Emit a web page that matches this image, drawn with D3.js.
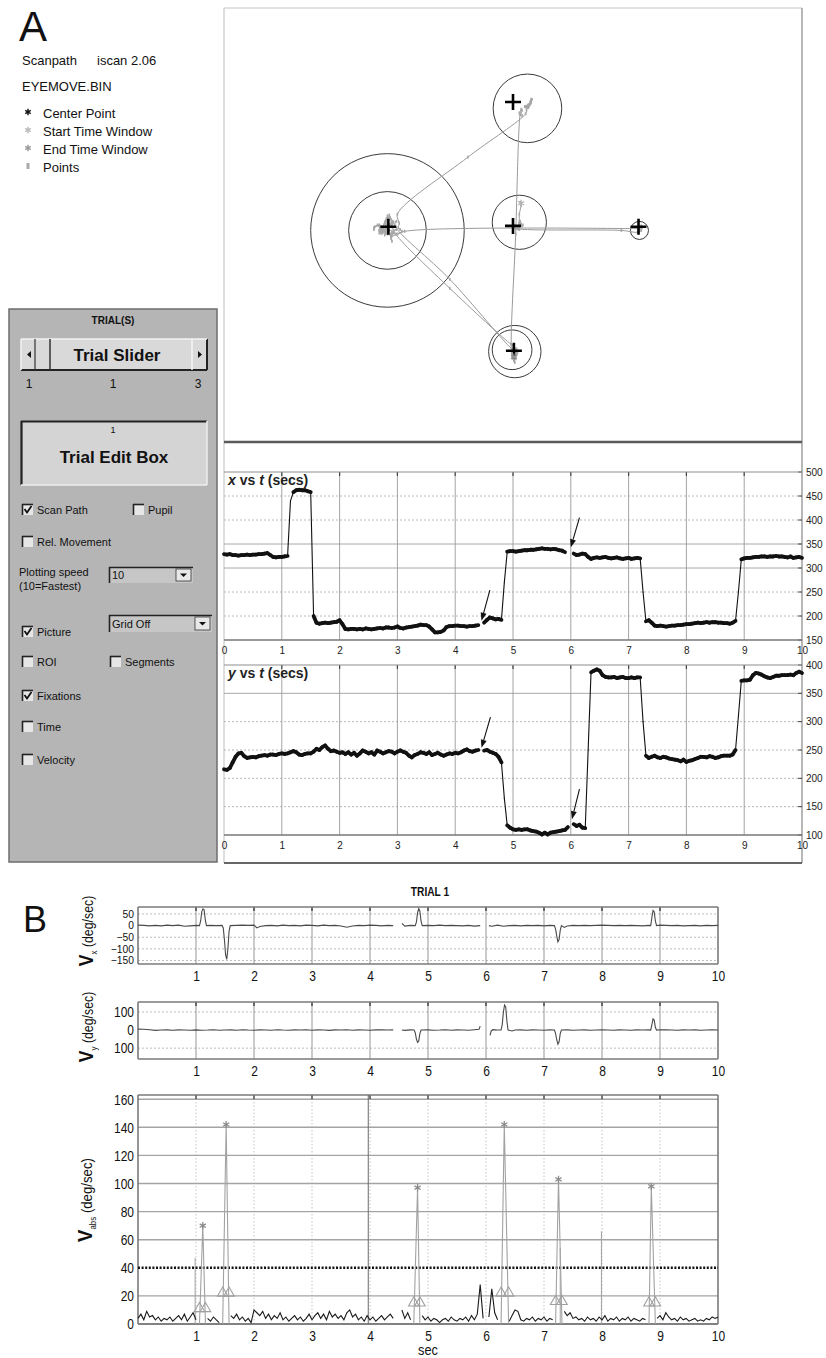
<!DOCTYPE html>
<html><head><meta charset="utf-8">
<script src="https://cdn.jsdelivr.net/npm/d3@7"></script>
<style>body{margin:0;background:#fff}svg{display:block}</style>
</head><body>
<svg id="c" width="826" height="1358"></svg>
<script>
// ---------------- DATA ----------------
const DT = 0.05; // sample spacing (s) for position / |V| series
// eye x position (pixels) sampled every 0.05 s from 0 to 10 s (null = lost sample)
const xPos = [
329,328,329,327,327,326,327,327,328,327,328,328,329,329,330,331,327,323,322,323,
323,324,325,440,458,462,463,462,462,460,458,200,186,184,185,186,185,186,187,188,
191,183,173,172,173,173,172,173,172,174,173,172,173,174,175,174,176,176,175,176,
178,175,174,176,177,178,179,180,182,181,181,178,172,166,166,167,170,177,179,179,
180,180,179,179,178,179,179,180,181,null,186,192,197,195,193,194,192,270,334,335,
335,334,335,336,337,337,338,338,339,340,341,340,340,339,340,339,337,336,333,null,
null,330,327,328,330,329,323,319,321,322,321,322,323,321,320,321,322,320,319,320,
321,319,320,321,320,250,189,191,186,180,179,180,179,178,179,180,180,181,181,182,
183,183,184,185,186,185,186,187,186,187,187,186,186,185,185,184,186,190,250,318,
320,321,321,322,323,323,324,324,323,324,324,325,324,324,323,322,324,321,322,323,
321];
// eye y position (pixels)
const yPos = [
216,215,218,228,238,244,245,239,236,237,238,237,239,240,241,240,242,242,241,243,
244,243,244,246,248,246,242,241,243,244,244,247,252,250,255,258,252,248,249,247,
245,246,243,246,242,245,240,244,249,247,244,246,242,249,247,244,246,248,247,244,
247,249,247,245,240,237,241,243,246,245,243,246,241,243,245,242,240,242,244,243,
245,244,246,249,251,248,247,249,250,null,249,250,247,245,243,238,228,165,117,113,
110,109,110,109,110,110,108,107,106,104,101,104,101,104,105,106,107,108,109,114,
null,119,116,118,113,112,250,387,390,392,390,382,379,378,378,379,377,378,379,377,
377,378,377,378,378,300,240,236,238,240,237,236,238,237,235,234,233,232,230,233,
229,231,232,234,236,238,238,237,239,238,236,237,239,240,240,240,242,250,310,372,
373,373,374,382,386,385,383,380,378,377,379,381,381,382,382,382,383,382,386,388,
386];
// |V| (deg/sec) outside saccades, every 0.05 s
const vAbs = [
4,7,3,9,5,6,3,5,2,4,3,5,2,4,6,3,7,2,5,8,
3,null,null,null,4,2,5,3,1,null,null,null,6,4,7,3,5,2,4,1,
10,8,6,9,4,7,3,6,4,8,3,5,2,4,6,3,5,2,4,7,
3,6,8,4,7,3,9,5,7,4,6,3,8,10,5,7,3,5,2,6,
3,5,2,4,6,3,5,7,4,null,null,10,4,8,3,null,null,null,6,3,
5,2,4,3,1,3,4,2,5,3,2,4,3,5,2,6,3,7,28,4,
null,5,25,8,3,null,null,null,2,6,10,9,3,2,4,3,5,2,4,3,
5,2,4,3,null,null,null,9,6,8,4,5,3,4,2,5,3,4,2,5,
3,6,2,4,3,5,2,4,3,5,2,4,3,2,4,3,null,null,null,4,
6,3,8,5,3,4,2,5,3,4,2,3,4,2,3,2,4,3,5,4,
5];
// Vx (deg/sec): [t, value]
const vxPts = [[0,2],[0.1,1],[0.2,-1],[0.3,1],[0.4,-1],[0.5,2],[0.6,0],[0.7,2],[0.8,-3],[0.9,-1],[1.0,1],
[1.06,0],[1.08,20],[1.10,60],[1.12,72],[1.14,68],[1.16,25],[1.18,0],[1.25,1],[1.35,0],[1.45,1],
[1.47,-10],[1.49,-60],[1.51,-125],[1.53,-145],[1.55,-100],[1.57,-25],[1.59,0],[1.7,1],[1.8,2],[1.9,1],[2.0,2],
[2.05,-10],[2.1,-4],[2.2,0],[2.3,1],[2.4,-1],[2.5,2],[2.6,0],[2.7,1],[2.8,-1],[2.9,2],[3.0,1],[3.1,-1],[3.2,2],
[3.3,0],[3.4,1],[3.5,-2],[3.6,-7],[3.7,-2],[3.8,1],[3.9,0],[4.0,2],[4.1,1],[4.2,-1],[4.3,1],[4.4,0],[4.42,null],
[4.55,10],[4.6,-2],[4.7,1],[4.78,0],[4.80,15],[4.82,55],[4.84,73],[4.86,62],[4.88,20],[4.9,0],[5.0,1],[5.1,0],
[5.2,2],[5.3,0],[5.4,1],[5.5,0],[5.6,-1],[5.7,1],[5.8,-2],[5.9,0],[5.93,null],[6.05,0],[6.1,-3],[6.2,2],[6.3,-3],
[6.4,0],[6.5,1],[6.6,-1],[6.7,1],[6.8,0],[6.9,1],[7.0,-1],[7.1,1],[7.18,0],[7.20,-15],[7.22,-45],[7.24,-70],
[7.26,-60],[7.28,-20],[7.30,0],[7.35,-8],[7.4,-2],[7.5,1],[7.6,0],[7.7,1],[7.8,0],[7.9,1],[8.0,2],[8.1,1],[8.2,0],
[8.3,1],[8.4,0],[8.5,1],[8.6,0],[8.7,-1],[8.8,1],[8.84,0],[8.86,35],[8.88,65],[8.90,60],[8.92,20],[8.94,0],
[9.0,2],[9.1,1],[9.2,0],[9.3,1],[9.4,-1],[9.5,0],[9.6,1],[9.7,-1],[9.8,1],[9.9,0],[10,1]];
// Vy (deg/sec): [t, value]
const vyPts = [[0,5],[0.1,4],[0.2,2],[0.3,-2],[0.4,0],[0.5,1],[0.6,-1],[0.7,1],[0.8,0],[0.9,-1],[1.0,1],[1.1,-1],
[1.2,0],[1.3,2],[1.4,-1],[1.5,0],[1.6,1],[1.7,-1],[1.8,2],[1.9,0],[2.0,-1],[2.1,1],[2.2,0],[2.3,-1],[2.4,2],[2.5,0],
[2.6,-1],[2.7,1],[2.8,0],[2.9,2],[3.0,-1],[3.1,1],[3.2,0],[3.3,-2],[3.4,1],[3.5,0],[3.6,2],[3.7,-1],[3.8,1],[3.9,0],
[4.0,-1],[4.1,1],[4.2,2],[4.3,0],[4.4,1],[4.42,null],[4.55,0],[4.6,-2],[4.7,1],[4.76,0],[4.78,-15],[4.80,-50],
[4.82,-68],[4.84,-60],[4.86,-20],[4.88,0],[5.0,1],[5.1,-1],[5.2,0],[5.3,2],[5.4,-1],[5.5,1],[5.6,0],[5.7,-1],
[5.8,2],[5.88,4],[5.9,22],[5.92,null],[6.07,-30],[6.09,-5],[6.12,2],[6.2,0],[6.26,0],[6.28,30],[6.30,100],
[6.32,138],[6.34,128],[6.36,50],[6.38,0],[6.45,-5],[6.5,0],[6.6,1],[6.7,-1],[6.8,1],[6.9,0],[7.0,-1],[7.1,1],
[7.18,0],[7.20,-20],[7.22,-55],[7.24,-78],[7.26,-65],[7.28,-20],[7.30,0],[7.4,1],[7.5,-1],[7.6,0],[7.7,1],
[7.8,-1],[7.9,0],[8.0,1],[8.1,0],[8.2,-1],[8.3,1],[8.4,0],[8.5,-1],[8.6,1],[8.7,0],[8.8,1],[8.84,0],[8.86,30],
[8.88,62],[8.90,55],[8.92,15],[8.94,0],[9.0,2],[9.1,1],[9.2,0],[9.3,-1],[9.4,1],[9.5,0],[9.6,1],[9.7,-1],
[9.8,0],[9.9,1],[10,0]];
// detected saccades: onset, peak time, offset, peak |V|, marker level
const saccOn   = [1.06, 1.46, 4.755, 6.26, 7.20, 8.81];
const saccPeakT= [1.117,1.52, 4.82, 6.315,7.25, 8.85];
const saccOff  = [1.163,1.57, 4.86, 6.39, 7.31, 8.92];
const saccPeak = [70, 142, 97, 142, 103, 98];
const saccMark = [11, 22, 15, 22, 16, 15];
const vThreshold = 40;
// isolated thin spikes in |V| plot: [t, value]
const vSpikes = [[0.985,47],[3.97,163],[7.28,54],[7.99,66]];
// targets (eye pixel coords) and fixation circles [cx, cy, r]
const targets = [[182,242],[320,241],[459,242],[320,104],[321,379]];
const fixCircles = [[181,246,85],[181,246,43],[336,111,38],[327,237,30],[460,246,10],[322,380,29],[319,378,22]];
// arrows on position plots: [tFrom, vFrom, tTo, vTo]
const arrowsX = [[4.6,254,4.455,190],[6.15,405,6.0,343]];
const arrowsY = [[4.61,308,4.455,254],[6.15,181,6.02,128]];
// ticks
const secTicksA = [0,1,2,3,4,5,6,7,8,9,10];
const secTicksB = [1,2,3,4,5,6,7,8,9,10];
const xPosTicks = [150,200,250,300,350,400,450,500];
const yPosTicks = [100,150,200,250,300,350,400];
const vxTicks = [50,0,-50,-100,-150];
const vyTicks = [100,0,-100];
const vAbsTicks = [0,20,40,60,80,100,120,140,160];
const legendItems = ["Center Point","Start Time Window","End Time Window","Points"];

// ---------------- DRAW ----------------
const SANS = "'Liberation Sans', Arial, Helvetica, sans-serif";
const NARROW = "'Liberation Sans Narrow', 'Arial Narrow', 'Liberation Sans', sans-serif";
const svg = d3.select("#c");
function ln(g,x1,y1,x2,y2,stroke,w,dash){const l=g.append("line").attr("x1",x1).attr("y1",y1).attr("x2",x2).attr("y2",y2).attr("stroke",stroke).attr("stroke-width",w);if(dash)l.attr("stroke-dasharray",dash);return l;}
function txt(g,x,y,s,size,opts={}){const t=g.append("text").attr("x",x).attr("y",y).text(s).attr("font-size",size).attr("font-family",opts.family||SANS).attr("fill",opts.fill||"#111");if(opts.anchor)t.attr("text-anchor",opts.anchor);if(opts.weight)t.attr("font-weight",opts.weight);return t;}
function asterisk(r){let p="";for(let k=0;k<3;k++){const a=Math.PI/2+k*Math.PI/3;p+=`M${(-r*Math.cos(a)).toFixed(2)},${(-r*Math.sin(a)).toFixed(2)}L${(r*Math.cos(a)).toFixed(2)},${(r*Math.sin(a)).toFixed(2)}`;}return p;}
function condense(sel,f){sel.each(function(){const L=this.getComputedTextLength();this.setAttribute("textLength",(L*f).toFixed(2));this.setAttribute("lengthAdjust","spacingAndGlyphs");});}

// ---- Panel A header text ----
txt(svg,19,41,"A",42);
txt(svg,22,65,"Scanpath",13); txt(svg,97,65,"iscan 2.06",13);
txt(svg,22,91,"EYEMOVE.BIN",13);
const legCol=["#111","#bbb","#999"];
legendItems.forEach((s,i)=>{
  const y=118+i*18;
  if(i<3) svg.append("path").attr("d",asterisk(3.2)).attr("transform",`translate(28,${y-6})`).attr("stroke",legCol[i]).attr("stroke-width",1.4);
  else svg.append("rect").attr("x",26.5).attr("y",y-9).attr("width",3).attr("height",6).attr("fill","#aaa");
  txt(svg,43,y,s,13);
});

// ---- control panel ----
const cp=svg.append("g");
cp.append("rect").attr("x",9).attr("y",309).attr("width",208).attr("height",553).attr("fill","#b5b5b5").attr("stroke","#6e6e6e").attr("stroke-width",1.5);
txt(cp,113,324,"TRIAL(S)",10,{anchor:"middle",weight:"bold"});
cp.append("rect").attr("x",21).attr("y",339).attr("width",186).attr("height",31).attr("fill","#d9d9d9");
ln(cp,21,370,207,370,"#222",2); ln(cp,207,339,207,370,"#222",2); ln(cp,21,339,207,339,"#f2f2f2",1.5); ln(cp,21,339,21,370,"#f2f2f2",1.5);
ln(cp,35,339,35,370,"#333",1.2); ln(cp,50,339,50,370,"#333",1.5); ln(cp,192,339,192,370,"#f5f5f5",1.5);
cp.append("path").attr("d","M31,351 L27,354.5 L31,358 Z").attr("fill","#111");
cp.append("path").attr("d","M198,351 L202,354.5 L198,358 Z").attr("fill","#111");
txt(cp,117,361,"Trial Slider",17,{anchor:"middle",weight:"bold"});
txt(cp,29,388,"1",12,{anchor:"middle"}); txt(cp,113,388,"1",12,{anchor:"middle"}); txt(cp,198,388,"3",12,{anchor:"middle"});
cp.append("rect").attr("x",21).attr("y",421).attr("width",186).attr("height",64).attr("fill","#d4d4d4");
ln(cp,21,421.5,207,421.5,"#222",2.2); ln(cp,21.5,421,21.5,485,"#222",2.2); ln(cp,21,485,207,485,"#eee",1.5); ln(cp,207,421,207,485,"#eee",1.5);
txt(cp,113,433,"1",9,{anchor:"middle"});
txt(cp,114,463,"Trial Edit Box",17,{anchor:"middle",weight:"bold"});
function checkbox(x,y,on,label){
  cp.append("rect").attr("x",x).attr("y",y-6).attr("width",11).attr("height",11).attr("fill","#e6e6e6");
  ln(cp,x,y-5.5,x+11,y-5.5,"#222",1.6); ln(cp,x+0.5,y-6,x+0.5,y+5,"#222",1.6);
  if(on) cp.append("path").attr("d",`M${x+2.5},${y-1} L${x+5},${y+2.5} L${x+9.5},${y-4}`).attr("fill","none").attr("stroke","#111").attr("stroke-width",1.8);
  txt(cp,x+15,y+4,label,11);
}
function dropdown(x,y,w,hh,label){
  cp.append("rect").attr("x",x).attr("y",y).attr("width",w).attr("height",hh).attr("fill","#c6c6c6");
  ln(cp,x,y+0.5,x+w,y+0.5,"#222",1.6); ln(cp,x+0.5,y,x+0.5,y+hh,"#222",1.6);
  cp.append("rect").attr("x",x+w-17).attr("y",y+2).attr("width",15).attr("height",hh-4).attr("fill","#e8e8e8").attr("stroke","#333").attr("stroke-width",0.8);
  cp.append("path").attr("d",`M${x+w-13},${y+hh/2-1.5} L${x+w-6},${y+hh/2-1.5} L${x+w-9.5},${y+hh/2+2}Z`).attr("fill","#111");
  txt(cp,x+3,y+hh-4,label,11);
}
checkbox(22,510,true,"Scan Path"); checkbox(133,510,false,"Pupil");
checkbox(22,542,false,"Rel. Movement");
txt(cp,19,576,"Plotting speed",11); txt(cp,19,590,"(10=Fastest)",11);
dropdown(109,567,84,16,"10");
checkbox(22,632,true,"Picture"); dropdown(109,615,103,17,"Grid Off");
checkbox(22,662,false,"ROI"); checkbox(110,662,false,"Segments");
checkbox(22,696,true,"Fixations");
checkbox(22,727,false,"Time");
checkbox(22,760,false,"Velocity");

// ---- scanpath panel ----
const sx=d3.scaleLinear([0,640],[224,802]), sy=d3.scaleLinear([0,480],[8,442]);
const sp=svg.append("g");
ln(sp,224,8,802,8,"#c4c4c4",1); ln(sp,224,8,224,863,"#c8c8c8",1.2); ln(sp,802,8,802,863,"#888",1.2);
ln(sp,224,442,802,442,"#5a5a5a",2.6); ln(sp,224,863,802,863,"#666",2.2);
sp.selectAll("circle.fix").data(fixCircles).join("circle").attr("class","fix")
  .attr("cx",d=>sx(d[0])).attr("cy",d=>sy(d[1])).attr("r",d=>sx(d[2])-sx(0))
  .attr("fill","none").attr("stroke","#3a3a3a").attr("stroke-width",1);
const traj=xPos.map((v,i)=>[v,yPos[i]]);
sp.append("path").attr("d",d3.line().defined(d=>d[0]!=null&&d[1]!=null).curve(d3.curveCatmullRom.alpha(0.5)).x(d=>sx(d[0])).y(d=>sy(d[1]))(traj))
  .attr("fill","none").attr("stroke","#9a9a9a").attr("stroke-width",1);
const trajPts=traj.filter(d=>d[0]!=null&&d[1]!=null);
sp.selectAll("rect.pt").data(trajPts).join("rect").attr("class","pt")
  .attr("x",d=>sx(d[0])-0.8).attr("y",d=>sy(d[1])-1.5).attr("width",1.6).attr("height",3).attr("fill","#a8a8a8");
sp.selectAll("path.tg").data(targets).join("path").attr("class","tg")
  .attr("d",d=>`M${sx(d[0])-8},${sy(d[1])}H${sx(d[0])+8}M${sx(d[0])},${sy(d[1])-8}V${sy(d[1])+8}`)
  .attr("stroke","#000").attr("stroke-width",2.6).attr("fill","none");
const firstP=trajPts[0], lastP=trajPts[trajPts.length-1];
[[firstP,"#b5b5b5"],[lastP,"#999"]].forEach(([p,c])=>sp.append("path").attr("d",asterisk(3.5)).attr("transform",`translate(${sx(p[0])},${sy(p[1])})`).attr("stroke",c).attr("stroke-width",1.2));

// ---- position vs time plots ----
const tx=d3.scaleLinear([0,10],[224,802]);
function posPlot(vals,ys,ticks,top,bottom,solidLines,title,arrows){
  const g=svg.append("g");
  ticks.forEach(v=>{ if(v===ys.domain()[0]||v===ys.domain()[1]) return;
    const solid=solidLines.includes(v);
    ln(g,224,ys(v),802,ys(v),solid?"#9e9e9e":"#b8b8b8",solid?0.9:1,solid?null:"2,2"); });
  secTicksA.slice(1,-1).forEach(t=>{ ln(g,tx(t),top,tx(t),bottom,"#9a9a9a",0.9); ln(g,tx(t),top,tx(t),top+4,"#444",1.2); });
  ticks.forEach(v=>ln(g,798,ys(v),802,ys(v),"#444",1));
  ln(g,224,top,802,top,"#8e8e8e",1.2); ln(g,224,bottom,802,bottom,"#777",1.6);
  const ay=g.append("g").attr("transform","translate(802,0)").call(d3.axisRight(ys).tickValues(ticks).tickSize(0).tickPadding(4));
  const ax=g.append("g").attr("transform",`translate(0,${bottom})`).call(d3.axisBottom(tx).tickValues(secTicksA).tickSize(0).tickPadding(7));
  [ax,ay].forEach(a=>{a.select(".domain").remove();a.selectAll("text").attr("font-size",10).attr("font-family",SANS).attr("fill","#222");});
  const pts=vals.map((v,i)=>[i*DT,v]);
  const segs=d3.pairs(pts).filter(([a,b])=>a[1]!=null&&b[1]!=null);
  g.selectAll("line.seg").data(segs).join("line").attr("class","seg")
    .attr("x1",d=>tx(d[0][0])).attr("y1",d=>ys(d[0][1])).attr("x2",d=>tx(d[1][0])).attr("y2",d=>ys(d[1][1]))
    .attr("stroke","#111").attr("stroke-linecap","round")
    .attr("stroke-width",d=>Math.abs(d[1][1]-d[0][1])<=14?3.8:1.1);
  arrows.forEach(a=>{
    const x1=tx(a[0]),y1=ys(a[1]),x2=tx(a[2]),y2=ys(a[3]);
    const ang=Math.atan2(y2-y1,x2-x1), L=8, W=3;
    const bx=x2-L*Math.cos(ang), by=y2-L*Math.sin(ang);
    ln(g,x1,y1,bx,by,"#111",1.1);
    g.append("path").attr("d",`M${x2},${y2}L${bx+W*Math.sin(ang)},${by-W*Math.cos(ang)}L${bx-W*Math.sin(ang)},${by+W*Math.cos(ang)}Z`).attr("fill","#111");
  });
  const t=g.append("text").attr("x",228).attr("y",top+13).attr("font-size",14).attr("font-weight","bold").attr("font-family",SANS).attr("fill","#222");
  t.append("tspan").attr("font-style","italic").text(title);
  t.append("tspan").text(" vs ");
  t.append("tspan").attr("font-style","italic").text("t");
  t.append("tspan").text(" (secs)");
}
posPlot(xPos,d3.scaleLinear([150,500],[640,472]),xPosTicks,472,640,[300,350],"x",arrowsX);
posPlot(yPos,d3.scaleLinear([100,400],[835,665]),yPosTicks,665,835,[350],"y",arrowsY);

// ---- Panel B ----
txt(svg,23,932,"B",36);
condense(txt(svg,430,896,"TRIAL 1",12,{anchor:"middle",weight:"bold",family:NARROW}),0.85);
const bx=d3.scaleLinear([0,10],[138,718]);
function yLabel(x,y,sub,size){
  const t=svg.append("text").attr("transform",`translate(${x},${y}) rotate(-90)`).attr("text-anchor","middle").attr("font-family",NARROW).attr("fill","#111");
  t.append("tspan").attr("font-family",SANS).attr("font-weight","bold").attr("font-size",size+6).text("V");
  t.append("tspan").attr("font-size",9).attr("dy",4).text(sub);
  t.append("tspan").attr("font-size",size).attr("dy",-4).text(" (deg/sec)");
  condense(t,0.88);
}
function bFrame(g,top,bottom){
  ln(g,138,top,718,top,"#7a7a7a",1.6); ln(g,138,bottom,718,bottom,"#7a7a7a",1.6);
  ln(g,138,top,138,bottom,"#7a7a7a",1.6); ln(g,718,top,718,bottom,"#7a7a7a",1.6);
}
function bAxes(g,ys,ticks,fmt,bottom,ysize,yc){
  const ay=g.append("g").attr("transform","translate(138,0)").call(d3.axisLeft(ys).tickValues(ticks).tickFormat(fmt).tickSize(0).tickPadding(4));
  const ax=g.append("g").attr("transform",`translate(0,${bottom})`).call(d3.axisBottom(bx).tickValues(secTicksB).tickSize(0).tickPadding(6));
  [ax,ay].forEach(a=>{a.select(".domain").remove();a.selectAll("text").attr("font-family",NARROW).attr("fill","#111");});
  ax.selectAll("text").attr("font-size",15); ay.selectAll("text").attr("font-size",ysize);
  condense(ax.selectAll("text"),0.8); condense(ay.selectAll("text"),yc);
}
function velPlot(pts,ys,ticks,fmt,top,bottom,ysize,yc){
  const g=svg.append("g");
  ticks.forEach(v=>{ if(v!==0) ln(g,138,ys(v),718,ys(v),"#bdbdbd",1,"2,2"); });
  secTicksB.slice(0,-1).forEach(t=>ln(g,bx(t),top,bx(t),bottom,"#8a8a8a",0.9));
  secTicksB.slice(0,-1).forEach(t=>ln(g,bx(t),top,bx(t),top+4,"#333",1.3));
  bFrame(g,top,bottom);
  bAxes(g,ys,ticks,fmt,bottom,ysize,yc);
  g.append("path").attr("d",d3.line().defined(d=>d[1]!=null).x(d=>bx(d[0])).y(d=>ys(d[1]))(pts))
    .attr("fill","none").attr("stroke","#4a4a4a").attr("stroke-width",1.1);
}
velPlot(vxPts,d3.scaleLinear([-165,80],[964,907]),vxTicks,d=>d<0?"\u2212"+(-d):String(d),907,964,10.3,1);
velPlot(vyPts,d3.scaleLinear([-160,155],[1059,1002]),vyTicks,d=>String(Math.abs(d)),1002,1059,15,0.8);
yLabel(93,931,"x",14);
yLabel(93,1027,"y",14);

// |V| plot
const va=d3.scaleLinear([0,163],[1324,1095]);
const gv=svg.append("g");
secTicksB.slice(0,-1).forEach(t=>ln(gv,bx(t),1095,bx(t),1324,"#c4c4c4",1,"1.5,2"));
vAbsTicks.forEach(v=>{ if(v!==0&&v!==vThreshold) ln(gv,138,va(v),718,va(v),"#a4a4a4",1.4); });
secTicksB.slice(0,-1).forEach(t=>ln(gv,bx(t),1095,bx(t),1099,"#333",1.3));
ln(gv,138,va(0),718,va(0),"#999",2.2);
bFrame(gv,1095,1324);
bAxes(gv,va,vAbsTicks,d=>String(d),1324,15,0.8);
gv.selectAll("line.spk").data(vSpikes).join("line").attr("class","spk")
  .attr("x1",d=>bx(d[0])).attr("x2",d=>bx(d[0])).attr("y1",va(0)).attr("y2",d=>va(d[1]))
  .attr("stroke",d=>d[1]>=160?"#6a6a6a":"#a0a0a0").attr("stroke-width",1);
gv.append("path").attr("d",d3.line().defined(d=>d[1]!=null).x(d=>bx(d[0])).y(d=>va(d[1]))(vAbs.map((v,i)=>[i*DT,v])))
  .attr("fill","none").attr("stroke","#1a1a1a").attr("stroke-width",1.1);
ln(gv,138,va(vThreshold),718,va(vThreshold),"#111",2.6,"2,1.6");
const sacc=saccOn.map((t0,i)=>({t0,tp:saccPeakT[i],t1:saccOff[i],pk:saccPeak[i],mk:saccMark[i]}));
gv.selectAll("path.sac").data(sacc).join("path").attr("class","sac")
  .attr("d",d=>d3.line()([[bx(d.t0),va(0)],[bx(d.tp),va(d.pk)],[bx(d.t1),va(0)]]))
  .attr("fill","none").attr("stroke","#a2a2a2").attr("stroke-width",1.1);
const tri=d3.symbol(d3.symbolTriangle,48);
sacc.forEach(d=>{[d.t0,d.t1].forEach(t=>gv.append("path").attr("d",tri()).attr("transform",`translate(${bx(t)},${va(d.mk)})`).attr("fill","none").attr("stroke","#a0a0a0").attr("stroke-width",1.1));});
gv.selectAll("path.star").data(sacc).join("path").attr("class","star")
  .attr("d",asterisk(3.6)).attr("transform",d=>`translate(${bx(d.tp)},${va(d.pk)})`).attr("stroke","#8c8c8c").attr("stroke-width",1.3);
yLabel(92,1200,"abs",15);
condense(txt(svg,428,1355,"sec",15,{anchor:"middle",family:NARROW}),0.85);
</script>
</body></html>
